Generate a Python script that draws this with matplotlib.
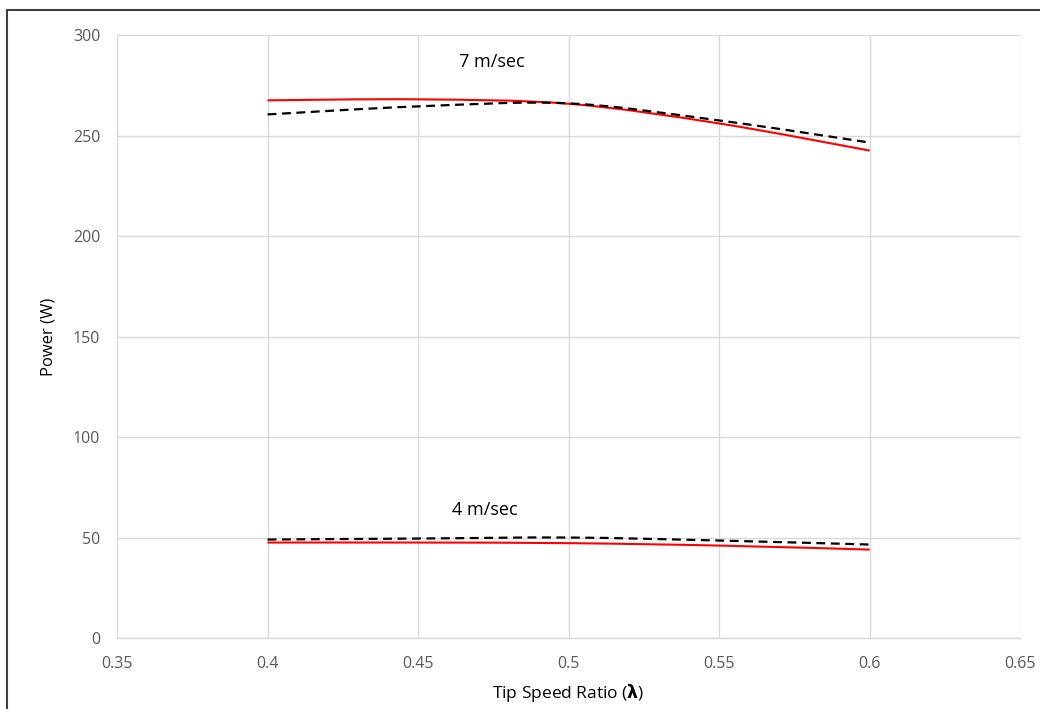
import matplotlib.pyplot as plt
import matplotlib.lines as mlines
import matplotlib.patches as mpatches
from matplotlib.path import Path
import numpy as np

plt.rcParams['font.family'] = ['Open Sans', 'DejaVu Sans']

# Data
tsr = [0.4, 0.45, 0.5, 0.55, 0.6]
power_7_red = [267.5, 268.0, 265.8, 256.0, 242.5]
power_7_black = [260.5, 264.5, 266.0, 257.5, 246.5]
power_4_red = [47.5, 47.5, 47.2, 46.0, 44.0]
power_4_black = [49.0, 49.5, 50.0, 48.5, 46.5]

x_ticks = [0.35, 0.4, 0.45, 0.5, 0.55, 0.6, 0.65]
x_tick_labels = ["0.35", "0.4", "0.45", "0.5", "0.55", "0.6", "0.65"]
y_ticks = [0, 50, 100, 150, 200, 250, 300]


def smooth_path(xs, ys):
    """Catmull-Rom style bezier path through the points (like Excel smoothed lines)."""
    pts = np.column_stack([xs, ys])
    verts = [pts[0]]
    codes = [Path.MOVETO]
    n = len(pts)
    for i in range(n - 1):
        p0 = pts[i - 1] if i > 0 else pts[i]
        p1 = pts[i]
        p2 = pts[i + 1]
        p3 = pts[i + 2] if i + 2 < n else pts[i + 1]
        c1 = p1 + (p2 - p0) / 6.0
        c2 = p2 - (p3 - p1) / 6.0
        verts += [c1, c2, p2]
        codes += [Path.CURVE4] * 3
    return Path(verts, codes)


def draw_curve(ax, xs, ys, **kw):
    patch = mpatches.PathPatch(smooth_path(xs, ys), fill=False,
                               capstyle="butt", **kw)
    ax.add_patch(patch)


fig = plt.figure(figsize=(10.4, 7.09), dpi=100)
ax = fig.add_axes([0.1125, 0.1001, 0.8685, 0.8505])

draw_curve(ax, tsr, power_7_red, edgecolor="#ff0000", linewidth=1.5, zorder=3)
draw_curve(ax, tsr, power_7_black, edgecolor="black", linewidth=1.6,
           linestyle=(0, (4, 2.5)), zorder=4)
draw_curve(ax, tsr, power_4_red, edgecolor="#ff0000", linewidth=1.5, zorder=3)
draw_curve(ax, tsr, power_4_black, edgecolor="black", linewidth=1.6,
           linestyle=(0, (4, 2.5)), zorder=4)

ax.set_xlim(0.35, 0.65)
ax.set_ylim(0, 300)
ax.set_xticks(x_ticks)
ax.set_xticklabels(x_tick_labels)
ax.set_yticks(y_ticks)
ax.grid(True, color="#d9d9d9", linewidth=1.0)
ax.set_axisbelow(True)
for side in ["top", "right", "left"]:
    ax.spines[side].set_visible(False)
ax.spines["bottom"].set_color("#d9d9d9")
ax.spines["bottom"].set_linewidth(1.0)
ax.tick_params(length=0, labelsize=11.5, labelcolor="#595959", pad=13)
ax.tick_params(axis="y", pad=12)

ax.text(0.4746, 286.6, "7 m/sec", ha="center", va="center", fontsize=13)
ax.text(0.4722, 63.5, "4 m/sec", ha="center", va="center", fontsize=13)

ax.set_xlabel("Tip Speed Ratio ($\\mathbf{\\lambda}$)", fontsize=12.5, labelpad=7)
ax.set_ylabel("Power (W)", fontsize=12, labelpad=12)

# Outer frame of the figure panel (cropped at the right and bottom)
fig.add_artist(mlines.Line2D([7 / 1040, 7 / 1040], [0, 1 - 10 / 709],
                             color="#404040", linewidth=1.5))
fig.add_artist(mlines.Line2D([7 / 1040, 1], [1 - 10 / 709, 1 - 10 / 709],
                             color="#404040", linewidth=1.5))

fig.savefig("out.png", dpi=100)
